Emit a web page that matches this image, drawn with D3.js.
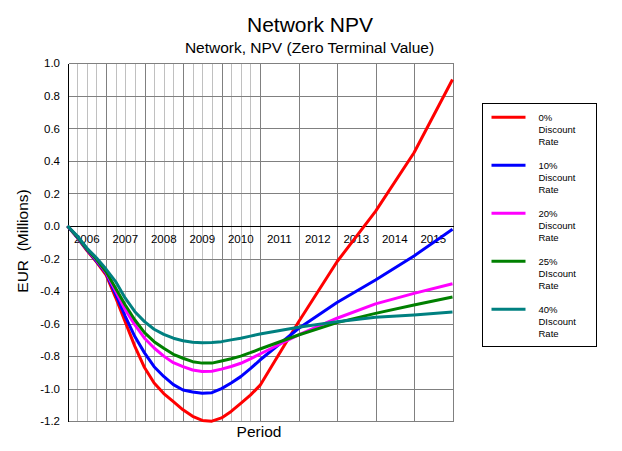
<!DOCTYPE html>
<html>
<head>
<meta charset="utf-8">
<script src="https://cdn.jsdelivr.net/npm/d3@7"></script>
<style>
  html, body { margin: 0; padding: 0; background: #fff; }
  svg { display: block; font-family: "Liberation Sans", Arial, sans-serif; }
</style>
</head>
<body>
<svg id="chart" width="622" height="451"></svg>
<script>
// ---- data (period end, in years since start of 2006) ----
const periods = [0, 0.25, 0.5, 0.75, 1, 1.25, 1.5, 1.75, 2, 2.25, 2.5, 2.75, 3, 3.25, 3.5, 3.75, 4, 4.25, 4.5, 4.75, 5, 6, 7, 8, 9, 10];
const yearLabels = ["2006", "2007", "2008", "2009", "2010", "2011", "2012", "2013", "2014", "2015"];
const seriesNames = ["0%", "10%", "20%", "25%", "40%"];
const legendWords = [["Discount", "Rate"], ["Discount", "Rate"], ["Discount", "Rate"], ["DIscount", "Rate"], ["DIscount", "Rate"]];
const seriesColors = ["#ff0000", "#0000ff", "#ff00ff", "#008000", "#008080"];

const rate0 = [0, -0.07, -0.15, -0.22, -0.30, -0.44, -0.59, -0.74, -0.87, -0.965, -1.03, -1.08, -1.13, -1.17, -1.195, -1.20, -1.18, -1.14, -1.09, -1.04, -0.98, -0.59, -0.22, 0.09, 0.45, 0.90];
const rate10 = [0, -0.07, -0.145, -0.215, -0.29, -0.42, -0.555, -0.68, -0.78, -0.865, -0.925, -0.975, -1.008, -1.02, -1.028, -1.025, -1.0, -0.965, -0.926, -0.877, -0.824, -0.63, -0.47, -0.332, -0.184, -0.02];
const rate20 = [0, -0.065, -0.14, -0.21, -0.285, -0.40, -0.515, -0.608, -0.69, -0.75, -0.80, -0.84, -0.865, -0.885, -0.895, -0.893, -0.88, -0.864, -0.844, -0.817, -0.787, -0.67, -0.567, -0.479, -0.414, -0.355];
const rate25 = [0, -0.065, -0.14, -0.205, -0.28, -0.383, -0.486, -0.578, -0.656, -0.711, -0.752, -0.789, -0.813, -0.834, -0.843, -0.843, -0.83, -0.816, -0.80, -0.779, -0.756, -0.67, -0.594, -0.537, -0.486, -0.436];
const rate40 = [0, -0.06, -0.135, -0.195, -0.265, -0.342, -0.444, -0.527, -0.588, -0.635, -0.666, -0.69, -0.705, -0.715, -0.718, -0.716, -0.711, -0.70, -0.69, -0.677, -0.664, -0.622, -0.588, -0.561, -0.547, -0.529];
const allSeries = [rate0, rate10, rate20, rate25, rate40];

// ---- layout ----
const svg = d3.select("#chart");
const plotL = 67.5, plotR = 452.5, plotT = 63.3, plotB = 421.2;
const x = d3.scaleLinear().domain([0, 10]).range([plotL, plotR]);
const y = d3.scaleLinear().domain([-1.2, 1.0]).range([plotB, plotT]);
const px = v => Math.round(v) + 0.5;

// titles
svg.append("text").attr("x", 310).attr("y", 31.5).attr("text-anchor", "middle")
  .attr("font-size", "21px").attr("fill", "#000").text("Network NPV");
svg.append("text").attr("x", 309.5).attr("y", 53.3).attr("text-anchor", "middle")
  .attr("font-size", "15.5px").attr("fill", "#000").text("Network, NPV (Zero Terminal Value)");

// grid
const grid = svg.append("g").attr("shape-rendering", "crispEdges");
const minorT = periods.filter(t => t < 5 && t % 1 !== 0);
grid.selectAll("line.minor").data(minorT).join("line")
  .attr("x1", d => px(x(d))).attr("x2", d => px(x(d)))
  .attr("y1", px(plotT)).attr("y2", px(plotB))
  .attr("stroke", "#c0c0c0").attr("stroke-width", 1);
const yTicks = y.ticks(11);
grid.selectAll("line.h").data(yTicks).join("line")
  .attr("x1", px(plotL)).attr("x2", px(plotR))
  .attr("y1", d => px(y(d))).attr("y2", d => px(y(d)))
  .attr("stroke", "#808080").attr("stroke-width", 1);
const majorT = d3.range(1, yearLabels.length + 1);
grid.selectAll("line.major").data(majorT).join("line")
  .attr("x1", d => px(x(d))).attr("x2", d => px(x(d)))
  .attr("y1", px(plotT)).attr("y2", px(plotB))
  .attr("stroke", "#808080").attr("stroke-width", 1);

// axes lines
grid.append("line").attr("x1", px(plotL)).attr("x2", px(plotR))
  .attr("y1", px(y(0))).attr("y2", px(y(0))).attr("stroke", "#000");
grid.append("line").attr("x1", px(plotL)).attr("x2", px(plotL))
  .attr("y1", px(plotT)).attr("y2", px(plotB)).attr("stroke", "#000");

// y tick labels
svg.append("g").selectAll("text").data(yTicks).join("text")
  .attr("x", 60).attr("y", d => y(d)).attr("dy", "0.36em")
  .attr("text-anchor", "end").attr("font-size", "11.5px").attr("fill", "#000")
  .text(d => d.toFixed(1));

// year labels on the zero line
svg.append("g").selectAll("text").data(yearLabels).join("text")
  .attr("x", (d, i) => x(i + 0.5)).attr("y", y(0) + 17.3)
  .attr("text-anchor", "middle").attr("font-size", "11.5px").attr("fill", "#000")
  .text(d => d);

// axis titles
svg.append("text").attr("transform", `translate(28,241) rotate(-90)`)
  .attr("text-anchor", "middle").attr("font-size", "15.5px").attr("fill", "#000")
  .attr("xml:space", "preserve").style("white-space", "pre")
  .text("EUR  (Millions)");
svg.append("text").attr("x", 259).attr("y", 436.7).attr("text-anchor", "middle")
  .attr("font-size", "15.5px").attr("fill", "#000").text("Period");

// lines
const line = d3.line().x((d, i) => x(periods[i])).y(d => y(d));
svg.append("g").selectAll("path").data(allSeries).join("path")
  .attr("d", d => line(d)).attr("fill", "none")
  .attr("stroke", (d, i) => seriesColors[i]).attr("stroke-width", 3)
  .attr("stroke-linejoin", "round");

// legend
const lg = svg.append("g");
lg.append("rect").attr("x", 482.5).attr("y", 103.5).attr("width", 114).attr("height", 243)
  .attr("fill", "#fff").attr("stroke", "#000").attr("stroke-width", 1).attr("shape-rendering", "crispEdges");
const items = lg.selectAll("g.item").data(seriesNames).join("g")
  .attr("transform", (d, i) => `translate(0,${117.3 + i * 48})`);
items.append("line").attr("x1", 491.5).attr("x2", 525.5).attr("y1", 0).attr("y2", 0)
  .attr("stroke", (d, i) => seriesColors[i]).attr("stroke-width", 3);
items.append("text").attr("x", 538.5).attr("y", 3.5).attr("font-size", "9.5px").attr("fill", "#000").text(d => d);
items.append("text").attr("x", 538.5).attr("y", 15.5).attr("font-size", "9.5px").attr("fill", "#000").text((d, i) => legendWords[i][0]);
items.append("text").attr("x", 538.5).attr("y", 27.5).attr("font-size", "9.5px").attr("fill", "#000").text((d, i) => legendWords[i][1]);
</script>
</body>
</html>
